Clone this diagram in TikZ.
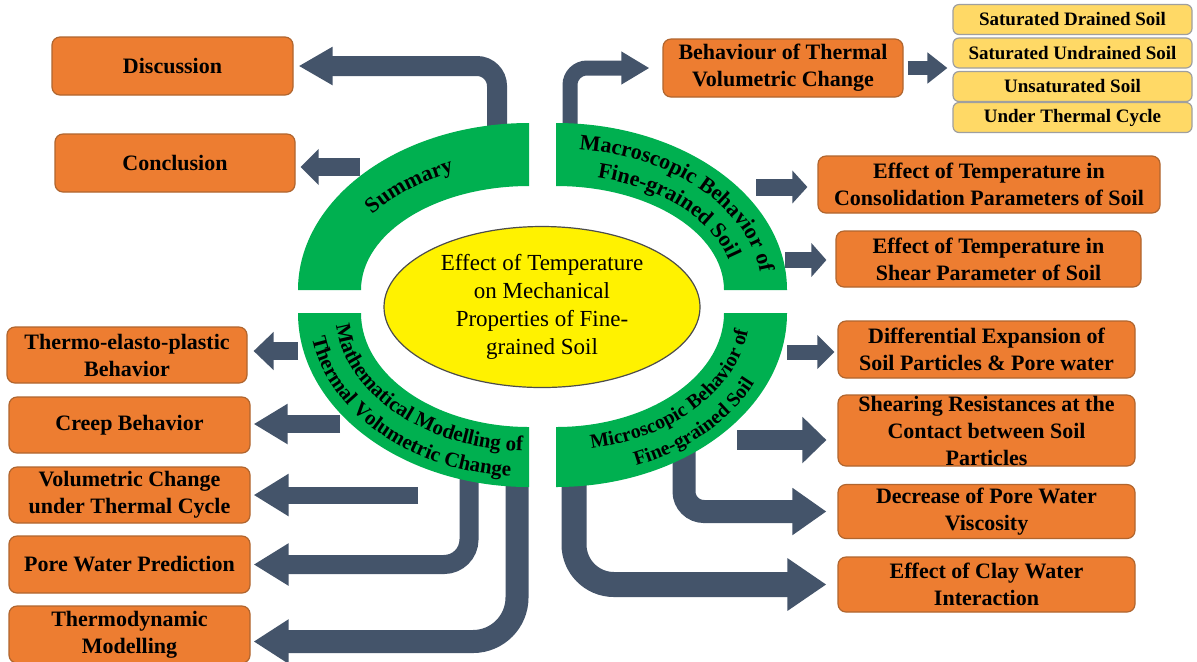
\documentclass[tikz,border=0pt]{standalone}
\usepackage{fontspec}
\setmainfont{Liberation Serif}
\usetikzlibrary{arrows.meta,shapes.geometric,decorations.text}

\definecolor{slate}{HTML}{44546A}
\definecolor{leafgreen}{HTML}{00B050}
\definecolor{boxorange}{HTML}{ED7D31}
\definecolor{boxedge}{HTML}{B0652E}
\definecolor{sand}{HTML}{FFD966}

\begin{document}
\begin{tikzpicture}[%
    x=0.5pt, y=-0.5pt,
    topic/.style={draw=boxedge, fill=boxorange, rounded corners=4pt, line width=0.6pt,
      align=center, inner sep=0pt, font=\bfseries\fontsize{11}{13.5}\selectfont},
    case/.style={draw=gray!75, fill=sand, rounded corners=3pt, line width=0.6pt,
      minimum width=119.5pt, minimum height=15pt, inner sep=0pt,
      font=\bfseries\fontsize{9.5}{11}\selectfont},
    flow/.style n args={3}{draw=slate, line width=#1, -{Triangle[width=#2,length=#3]}},
    ringtext/.style 2 args={decorate, decoration={text along path, text align=center,
      text={|\bfseries\fontsize{#1}{13}\selectfont|#2}}}
  ]
    \useasboundingbox (0,0) rectangle (1197,661);
    \fill[white] (0,0) rectangle (1197,661);

    % boxes on the left
    \node[topic, minimum width=120.5pt, minimum height=29pt] (disc) at (172.5,66) {Discussion};
    \node[topic, minimum width=120pt, minimum height=29pt] (conc) at (175,163) {Conclusion};
    \node[topic, minimum width=120pt, minimum height=28pt] (thermo) at (127,355) {Thermo-elasto-plastic\\Behavior};
    \node[topic, minimum width=120.5pt, minimum height=28pt] (creep) at (129.5,425) {Creep Behavior};
    \node[topic, minimum width=120.5pt, minimum height=28pt] (volch) at (129.5,495) {Volumetric Change\\under Thermal Cycle};
    \node[topic, minimum width=120.5pt, minimum height=28.5pt] (pore) at (129.5,564.5) {Pore Water Prediction};
    \node[topic, minimum width=120.5pt, minimum height=28.5pt] (tdyn) at (129.5,634.5) {Thermodynamic\\Modelling};

    % boxes on the right
    \node[topic, minimum width=120pt, minimum height=29pt] (beh) at (783,68) {Behaviour of Thermal\\Volumetric Change};
    \node[case] (sat1) at (1072.5,19.5) {Saturated Drained Soil};
    \node[case] (sat2) at (1072.5,53) {Saturated Undrained Soil};
    \node[case] (unsat) at (1072.5,86.5) {Unsaturated Soil};
    \node[case] (cycle) at (1072.5,117.5) {Under Thermal Cycle};
    \node[topic, minimum width=171pt, minimum height=28.5pt] (cons) at (989,184.5) {Effect of Temperature in\\Consolidation Parameters of Soil};
    \node[topic, minimum width=152.5pt, minimum height=28pt] (shear) at (988.5,259) {Effect of Temperature in\\Shear Parameter of Soil};
    \node[topic, minimum width=148.5pt, minimum height=28.5pt] (diff) at (986.5,349.5) {Differential Expansion of\\Soil Particles \& Pore water};
    \node[topic, minimum width=148.5pt, minimum height=35.5pt] (shres) at (986.5,430.5) {Shearing Resistances at the\\Contact between Soil\\Particles};
    \node[topic, minimum width=148.5pt, minimum height=27pt] (decr) at (986.5,511.5) {Decrease of Pore Water\\Viscosity};
    \node[topic, minimum width=148.5pt, minimum height=27.5pt] (clay) at (986.5,584.5) {Effect of Clay Water\\Interaction};

    % free ends of the arrows
    \coordinate (sumA) at (497,140);
    \coordinate (conA) at (360,167);
    \coordinate (macA) at (570,140);
    \coordinate (consA) at (756,187);
    \coordinate (shearA) at (785,260);
    \coordinate (diffA) at (787,352);
    \coordinate (shresA) at (737,440);
    \coordinate (decrA) at (684,440);
    \coordinate (clayA) at (574,470);
    \coordinate (thermoA) at (298,351);
    \coordinate (creepA) at (340,424);
    \coordinate (volchA) at (418,495);
    \coordinate (poreA) at (469,465);
    \coordinate (tdynA) at (517,470);

    \draw[flow={10pt}{18pt}{17pt}, rounded corners=10pt, shorten >=2.5pt] (sumA) |- (disc.east);
    \draw[flow={9pt}{17.5pt}{9pt}, shorten >=2.5pt] (conA) -- (conA -| conc.east);
    \draw[flow={7.5pt}{15.5pt}{14pt}, rounded corners=8.5pt, shorten >=6.5pt] (macA) |- (beh.west);
    \draw[flow={7pt}{15pt}{10pt}, shorten <=2pt, shorten >=2.5pt] (beh.east) -- (beh.east -| sat2.west);
    \draw[flow={8.5pt}{16pt}{7.5pt}, shorten >=5pt] (consA) -- (consA -| cons.west);
    \draw[flow={8pt}{16.5pt}{7.5pt}, shorten >=4.5pt] (shearA) -- (shearA -| shear.west);
    \draw[flow={7.5pt}{16.5pt}{8.5pt}, shorten >=1.5pt] (diffA) -- (diffA -| diff.west);
    \draw[flow={10pt}{22.5pt}{12pt}, shorten >=5.5pt] (shresA) -- (shresA -| shres.west);
    \draw[flow={11.5pt}{22.5pt}{17pt}, rounded corners=10pt, shorten >=5.5pt] (decrA) |- (decr.west);
    \draw[flow={12.5pt}{25pt}{19.5pt}, rounded corners=20pt, shorten >=5.5pt] (clayA) |- (clay.west);
    \draw[flow={9pt}{18.5pt}{10pt}, shorten >=3pt] (thermoA) -- (thermoA -| thermo.east);
    \draw[flow={9pt}{19pt}{17pt}, shorten >=1.5pt] (creepA) -- (creepA -| creep.east);
    \draw[flow={8.5pt}{20pt}{17.5pt}, shorten >=1.5pt] (volchA) -- (volchA -| volch.east);
    \draw[flow={9.5pt}{20pt}{17.5pt}, rounded corners=12.5pt, shorten >=1.5pt] (poreA) |- (pore.east);
    \draw[flow={11.5pt}{21pt}{17.5pt}, rounded corners=22pt, shorten >=1.5pt] (tdynA) |- ([yshift=-3.5pt]tdyn.east);

    % the ring: four quarter arcs, each round its own corner
    \foreach \cx/\cy/\a/\ro/\ri in {529/290/180/167/104, 556/290/270/167/104,
                                    529/313/90/174/114, 556/313/0/174/114} {
      \fill[leafgreen, shift={(\cx,\cy)}] (\a:231 and \ro)
        arc[start angle=\a, end angle=\a+90, x radius=231, y radius=\ro]
        -- (\a+90:168 and \ri)
        arc[start angle=\a+90, end angle=\a, x radius=168, y radius=\ri] -- cycle;
    }

    \path[ringtext={11}{Summary}, shift={(529,290)}] (196:192.5 and 128.5)
      arc[start angle=196, end angle=262, x radius=192.5, y radius=128.5];
    \path[ringtext={11}{Macroscopic Behavior of}, shift={(556,290)}] (271:205.5 and 141.5)
      arc[start angle=271, end angle=361, x radius=205.5, y radius=141.5];
    \path[ringtext={11}{Fine-grained Soil}, shift={(556,290)}] (272:179.5 and 115.5)
      arc[start angle=272, end angle=362, x radius=179.5, y radius=115.5];
    \path[ringtext={10.5}{Mathematical Modelling of}, shift={(529,313)}] (179:193.5 and 138)
      arc[start angle=179, end angle=89, x radius=193.5, y radius=138];
    \path[ringtext={10.5}{Thermal Volumetric Change}, shift={(529,313)}] (179:219.5 and 164)
      arc[start angle=179, end angle=89, x radius=219.5, y radius=164];
    \path[ringtext={10}{Microscopic Behavior of}, shift={(556,313)}] (87:193.5 and 138)
      arc[start angle=87, end angle=-3, x radius=193.5, y radius=138];
    \path[ringtext={10}{Fine-grained Soil}, shift={(556,313)}] (89:219.5 and 164)
      arc[start angle=89, end angle=-1, x radius=219.5, y radius=164];

    \node[ellipse, draw=black!70, fill=yellow, line width=0.6pt, inner sep=0pt,
      minimum width=158pt, minimum height=80.5pt, align=center,
      font=\fontsize{11.5}{14}\selectfont] (core) at (542,307)
      {Effect of Temperature\\on Mechanical\\Properties of Fine-\\grained Soil};
  \end{tikzpicture}
\end{document}
